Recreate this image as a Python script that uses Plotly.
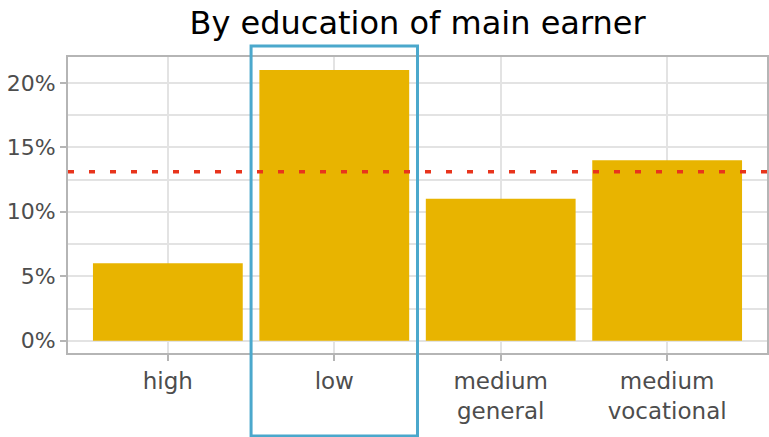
import plotly.graph_objects as go

categories = ["high", "low", "medium general", "medium vocational"]
tick_labels = ["high", "low", "medium<br>general", "medium<br>vocational"]
values = [6.0, 21.0, 11.0, 14.0]
overall = 13.1
highlight = "low"
title = "By education of main earner"

FONT = "DejaVu Sans"
GRID = "#E3E3E3"
AX = "#B5B5B5"

fig = go.Figure()
fig.add_trace(go.Bar(x=categories, y=values, marker=dict(color="#E8B400", line=dict(width=0)),
                     width=0.9, showlegend=False))
fig.add_shape(type="line", xref="paper", yref="y", x0=0, x1=1, y0=overall, y1=overall,
              line=dict(color="#E8341C", width=3.5, dash="6px,15px"))
hi = categories.index(highlight)
fig.add_shape(type="rect", xref="x", yref="paper", x0=hi - 0.5, x1=hi + 0.5, y0=-0.28, y1=1.037,
              line=dict(color="#4BA8CC", width=3), fillcolor="rgba(0,0,0,0)", layer="above")

fig.update_layout(
    width=769, height=437,
    margin=dict(l=68, r=0, t=57, b=84),
    plot_bgcolor="white", paper_bgcolor="white",
    title=dict(text=title, x=0.543, xanchor="center", y=0.948, yanchor="middle",
               font=dict(family=FONT, size=32, color="black")),
    font=dict(family=FONT, color="#4D4D4D", size=23),
)
fig.update_xaxes(range=[-0.6, 3.6], tickvals=categories, ticktext=tick_labels,
                 showgrid=True, gridcolor=GRID, gridwidth=2,
                 showline=True, linecolor=AX, linewidth=2, mirror=True,
                 ticks="outside", ticklen=6, tickcolor=AX, tickwidth=2,
                 tickfont=dict(size=23, color="#4D4D4D"))
fig.update_yaxes(range=[-0.95, 22.0], tickvals=[0, 5, 10, 15, 20],
                 ticktext=["0%", "5%", "10%", "15%", "20%"],
                 showgrid=True, gridcolor=GRID, gridwidth=2, zeroline=False,
                 minor=dict(tickvals=[2.5, 7.5, 12.5, 17.5], showgrid=True, gridcolor=GRID, gridwidth=2),
                 showline=True, linecolor=AX, linewidth=2, mirror=True,
                 ticks="outside", ticklen=6, tickcolor=AX, tickwidth=2,
                 tickfont=dict(size=22, color="#4D4D4D"))
fig.write_html("out.html")
